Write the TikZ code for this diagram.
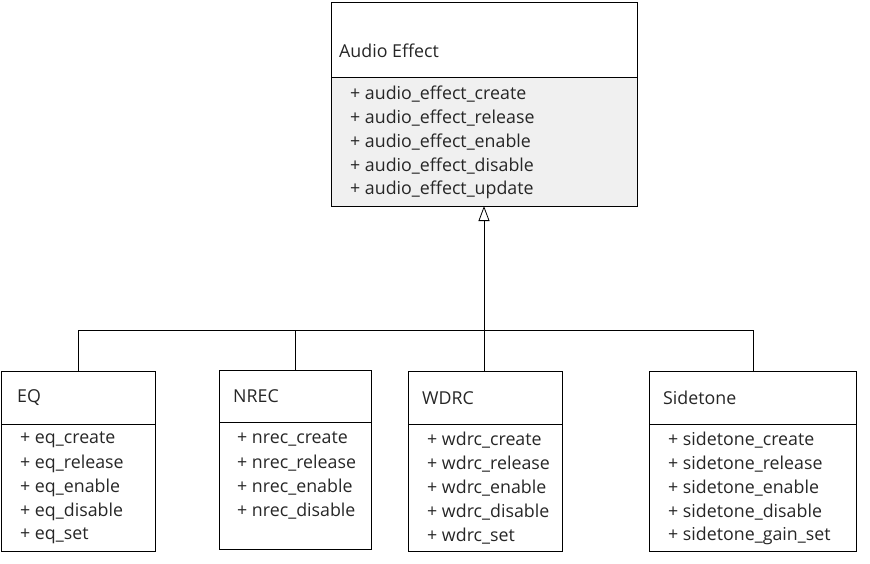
\documentclass[tikz,border=0pt]{standalone}
\usepackage{fontspec}
\setmainfont{Open Sans}
\usetikzlibrary{arrows.meta}
\definecolor{opfill}{HTML}{F0F0F0}
\begin{document}
\begin{tikzpicture}[x=1pt,y=-1pt,
  box/.style={draw=black,line width=0.8pt},
  lbl/.style={anchor=west,inner sep=0,text=black!85,font=\fontsize{17.8}{20}\selectfont},
  ln/.style={draw=black,line width=0.8pt}]
\useasboundingbox (0,0) rectangle (870,563);
% Audio Effect
\fill[opfill] (331,77) rectangle (637,206);
\draw[box] (331,2) rectangle (637,206);
\draw[box] (331,77) -- (637,77);
\node[lbl] (ae) at (339,51) {Audio Effect};
\foreach \t [count=\i] in {audio\_effect\_create,audio\_effect\_release,audio\_effect\_enable,audio\_effect\_disable,audio\_effect\_update}
  \node[lbl] (ae\i) at (350,70+24*\i) {+ \t};
\coordinate (tip) at (484,206);
\coordinate (j) at (484,330);
% EQ
\draw[box] (1,371) rectangle (155,551); \draw[box] (1,424) -- (155,424);
\node[lbl] (eq) at (17,398) {EQ};
\foreach \t [count=\i] in {eq\_create,eq\_release,eq\_enable,eq\_disable,eq\_set}
  \node[lbl] (eq\i) at (20,416+24*\i) {+ \t};
% NREC
\draw[box] (219,370) rectangle (371,549); \draw[box] (219,422) -- (371,422);
\node[lbl] (nr) at (219+14,396) {NREC};
\foreach \t [count=\i] in {nrec\_create,nrec\_release,nrec\_enable,nrec\_disable}
  \node[lbl] (nr\i) at (237,415+24*\i) {+ \t};
% WDRC
\draw[box] (408,371) rectangle (562,551); \draw[box] (408,424) -- (562,424);
\node[lbl] (wd) at (422,398) {WDRC};
\foreach \t [count=\i] in {wdrc\_create,wdrc\_release,wdrc\_enable,wdrc\_disable,wdrc\_set}
  \node[lbl] (wd\i) at (427,416+24*\i) {+ \t};
% Sidetone
\draw[box] (649,371) rectangle (856,551); \draw[box] (649,424) -- (856,424);
\node[lbl] (sd) at (663,398) {Sidetone};
\foreach \t [count=\i] in {sidetone\_create,sidetone\_release,sidetone\_enable,sidetone\_disable,sidetone\_gain\_set}
  \node[lbl] (sd\i) at (668,416+24*\i) {+ \t};
% connectors
\draw[ln] (78,330) -- (753,330);
\draw[ln] (78,330) -- (78,371);
\draw[ln] (295,330) -- (295,370);
\draw[ln] (484,330) -- (484,371);
\draw[ln] (753,330) -- (753,371);
\draw[ln,-{Triangle[open,width=11pt,length=15pt]}] (j) -- (tip);
\end{tikzpicture}
\end{document}
